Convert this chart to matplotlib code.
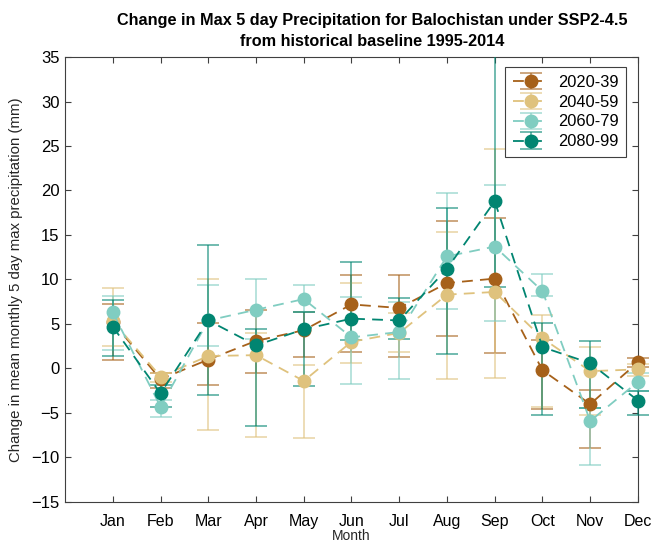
import numpy as np
import matplotlib.pyplot as plt
from matplotlib.patches import Rectangle

plt.rcParams['font.family'] = ['Liberation Sans', 'DejaVu Sans']

months = ['Jan', 'Feb', 'Mar', 'Apr', 'May', 'Jun', 'Jul', 'Aug', 'Sep', 'Oct', 'Nov', 'Dec']
periods = ['2020-39', '2040-59', '2060-79', '2080-99']
colors = ['#a6611a', '#dfc27d', '#80cdc1', '#018571']

# mean change and lower / upper error bounds (mm)
mean_2020 = [5.2, -1.2, 1.0, 3.1, 4.3, 7.2, 6.8, 9.6, 10.1, -0.2, -4.0, 0.7]
lo_2020 = [1.0, -2.2, -1.9, -0.5, 1.3, 1.9, 1.3, 3.6, 1.7, -4.5, -8.9, 0.2]
hi_2020 = [7.3, -0.5, 5.1, 6.6, 6.3, 10.5, 10.5, 16.6, 16.9, 3.2, -2.4, 1.2]

mean_2040 = [5.3, -0.9, 1.4, 1.5, -1.4, 3.0, 4.0, 8.3, 8.6, 3.4, -0.3, -0.1]
lo_2040 = [2.5, -1.5, -6.9, -7.7, -7.8, 0.6, 1.9, -1.2, -1.1, -4.3, -5.2, -0.8]
hi_2040 = [9.0, -0.5, 10.1, 4.0, 0.4, 9.6, 6.2, 15.3, 24.7, 6.0, 2.4, 0.5]

mean_2060 = [6.3, -4.3, 5.4, 6.6, 7.8, 3.5, 4.1, 12.6, 13.7, 8.7, -5.9, -1.5]
lo_2060 = [2.1, -5.4, 2.5, 3.3, 6.3, -1.7, -1.2, 6.7, 5.3, 8.2, -10.8, -2.5]
hi_2060 = [8.2, -3.5, 9.4, 10.1, 9.4, 8.0, 7.5, 19.7, 20.6, 10.6, -4.4, -0.5]

mean_2080 = [4.7, -2.8, 5.4, 2.6, 4.4, 5.6, 5.4, 11.2, 18.8, 2.4, 0.6, -3.6]
lo_2080 = [1.4, -4.3, -3.0, -6.5, -2.0, 3.2, 3.3, 1.6, 9.2, -5.2, -4.4, -5.2]
hi_2080 = [7.7, -1.8, 13.9, 4.4, 6.3, 12.0, 7.9, 18.0, 40.0, 5.1, 3.1, -2.5]

means = [mean_2020, mean_2040, mean_2060, mean_2080]
lows = [lo_2020, lo_2040, lo_2060, lo_2080]
highs = [hi_2020, hi_2040, hi_2060, hi_2080]

x = np.arange(1, 13)

fig = plt.figure(figsize=(6.57, 5.46), dpi=100)
ax = fig.add_axes([0.099, 0.0806, 0.872, 0.815])

# clip only vertically so points/caps at Dec can stick out to the right
clip = Rectangle((-0.1, 0), 1.2, 1, transform=ax.transAxes, visible=False)
ax.add_patch(clip)

handles = []
for m, lo, hi, c, lab in zip(means, lows, highs, colors, periods):
    m = np.array(m)
    yerr = [m - np.array(lo), np.array(hi) - m]
    eb = ax.errorbar(x, m, yerr=yerr, fmt='o--', color=c, ms=9, lw=1.3,
                     elinewidth=1.3, capsize=8, capthick=1.3, dashes=(6, 4),
                     label=lab, zorder=3)
    eb[0].set_clip_path(clip)
    for cl in eb[1]:
        cl.set_alpha(0.6)
        cl.set_clip_path(clip)
    for bl in eb[2]:
        bl.set_alpha(0.6)
        bl.set_clip_path(clip)
    handles.append(eb)

ax.set_xlim(0, 12)
ax.set_ylim(-15, 35)
ax.set_xticks(x)
ax.set_xticklabels(months, fontsize=11.5)
ax.set_yticks(np.arange(-15, 36, 5))
ax.tick_params(axis='y', labelsize=12, pad=4)
ax.tick_params(axis='x', pad=9)
ax.tick_params(direction='in', top=True, right=True, length=4, color='#404040')
for s in ax.spines.values():
    s.set_color('#404040')
    s.set_linewidth(0.8)

ax.set_xlabel('Month', fontsize=10, color='#262626', labelpad=0)
ax.set_ylabel('Change in mean monthly 5 day max precipitation (mm)', fontsize=10.8,
              color='#262626', labelpad=6)
ax.set_title('Change in Max 5 day Precipitation for Balochistan under SSP2-4.5\nfrom historical baseline 1995-2014',
             fontsize=11.7, fontweight='bold', linespacing=1.45, x=0.536, pad=8)

leg = ax.legend(handles=handles, loc='upper right', fontsize=11.8, fancybox=False,
                edgecolor='#404040', framealpha=1, handlelength=2.2,
                bbox_to_anchor=(0.98, 0.977), borderaxespad=0,
                labelspacing=0.3, borderpad=0.45, handletextpad=0.6)
leg.get_frame().set_linewidth(0.8)

fig.savefig('out.png', dpi=100)
